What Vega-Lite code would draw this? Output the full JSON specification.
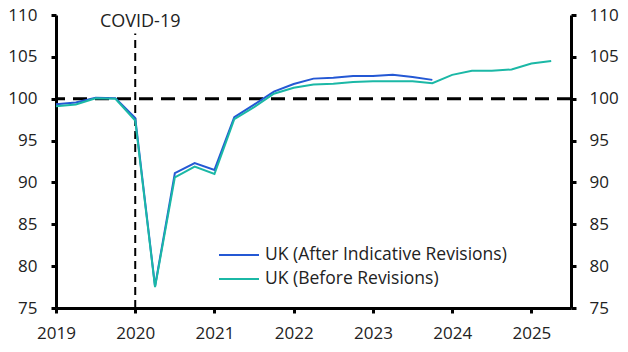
{
  "$schema": "https://vega.github.io/schema/vega-lite/v6.json",
  "width": 515,
  "height": 293,
  "autosize": {"type": "none"},
  "padding": {"left": 56, "top": 15, "right": 57, "bottom": 44},
  "background": "white",
  "config": {
    "view": {"stroke": null},
    "font": "Open Sans",
    "axis": {
      "grid": false,
      "domainColor": "black",
      "domainWidth": 3,
      "tickColor": "black",
      "tickWidth": 3,
      "tickSize": 5,
      "labelFontSize": 17,
      "labelColor": "#222222",
      "labelFont": "Open Sans",
      "labelFlush": false,
      "title": null
    }
  },
  "datasets": {
    "gdp": [
      {"date": 2019.0, "series": "UK (After Indicative Revisions)", "value": 99.35},
      {"date": 2019.25, "series": "UK (After Indicative Revisions)", "value": 99.55},
      {"date": 2019.5, "series": "UK (After Indicative Revisions)", "value": 100.1},
      {"date": 2019.75, "series": "UK (After Indicative Revisions)", "value": 100.05},
      {"date": 2020.0, "series": "UK (After Indicative Revisions)", "value": 97.7},
      {"date": 2020.25, "series": "UK (After Indicative Revisions)", "value": 77.6},
      {"date": 2020.5, "series": "UK (After Indicative Revisions)", "value": 91.1},
      {"date": 2020.75, "series": "UK (After Indicative Revisions)", "value": 92.3},
      {"date": 2021.0, "series": "UK (After Indicative Revisions)", "value": 91.5},
      {"date": 2021.25, "series": "UK (After Indicative Revisions)", "value": 97.8},
      {"date": 2021.5, "series": "UK (After Indicative Revisions)", "value": 99.3},
      {"date": 2021.75, "series": "UK (After Indicative Revisions)", "value": 100.85},
      {"date": 2022.0, "series": "UK (After Indicative Revisions)", "value": 101.75},
      {"date": 2022.25, "series": "UK (After Indicative Revisions)", "value": 102.4},
      {"date": 2022.5, "series": "UK (After Indicative Revisions)", "value": 102.5},
      {"date": 2022.75, "series": "UK (After Indicative Revisions)", "value": 102.7},
      {"date": 2023.0, "series": "UK (After Indicative Revisions)", "value": 102.7},
      {"date": 2023.25, "series": "UK (After Indicative Revisions)", "value": 102.85},
      {"date": 2023.5, "series": "UK (After Indicative Revisions)", "value": 102.6},
      {"date": 2023.75, "series": "UK (After Indicative Revisions)", "value": 102.25},
      {"date": 2019.0, "series": "UK (Before Revisions)", "value": 99.1},
      {"date": 2019.25, "series": "UK (Before Revisions)", "value": 99.3},
      {"date": 2019.5, "series": "UK (Before Revisions)", "value": 100.05},
      {"date": 2019.75, "series": "UK (Before Revisions)", "value": 100.0},
      {"date": 2020.0, "series": "UK (Before Revisions)", "value": 97.4},
      {"date": 2020.25, "series": "UK (Before Revisions)", "value": 77.5},
      {"date": 2020.5, "series": "UK (Before Revisions)", "value": 90.6},
      {"date": 2020.75, "series": "UK (Before Revisions)", "value": 91.9},
      {"date": 2021.0, "series": "UK (Before Revisions)", "value": 91.0},
      {"date": 2021.25, "series": "UK (Before Revisions)", "value": 97.55},
      {"date": 2021.5, "series": "UK (Before Revisions)", "value": 99.0},
      {"date": 2021.75, "series": "UK (Before Revisions)", "value": 100.6},
      {"date": 2022.0, "series": "UK (Before Revisions)", "value": 101.3},
      {"date": 2022.25, "series": "UK (Before Revisions)", "value": 101.7},
      {"date": 2022.5, "series": "UK (Before Revisions)", "value": 101.8},
      {"date": 2022.75, "series": "UK (Before Revisions)", "value": 102.0},
      {"date": 2023.0, "series": "UK (Before Revisions)", "value": 102.1},
      {"date": 2023.25, "series": "UK (Before Revisions)", "value": 102.1},
      {"date": 2023.5, "series": "UK (Before Revisions)", "value": 102.1},
      {"date": 2023.75, "series": "UK (Before Revisions)", "value": 101.85},
      {"date": 2024.0, "series": "UK (Before Revisions)", "value": 102.85},
      {"date": 2024.25, "series": "UK (Before Revisions)", "value": 103.35},
      {"date": 2024.5, "series": "UK (Before Revisions)", "value": 103.35},
      {"date": 2024.75, "series": "UK (Before Revisions)", "value": 103.5},
      {"date": 2025.0, "series": "UK (Before Revisions)", "value": 104.2},
      {"date": 2025.25, "series": "UK (Before Revisions)", "value": 104.5}
    ],
    "hline": [{"value": 100}],
    "vline": [{"date": 2020, "y1": 75, "y2": 107.8, "label": "COVID-19", "ly": 109.2}]
  },
  "layer": [
    {
      "data": {"name": "hline"},
      "mark": {"type": "rule", "color": "black", "strokeWidth": 3, "strokeDash": [14, 8]},
      "encoding": {
        "y": {
          "field": "value", "type": "quantitative",
          "scale": {"domain": [75, 110], "nice": false, "zero": false},
          "axis": {"orient": "right", "values": [75, 80, 85, 90, 95, 100, 105, 110], "labelPadding": 13}
        }
      }
    },
    {
      "data": {"name": "vline"},
      "mark": {"type": "rule", "color": "black", "strokeWidth": 2, "strokeDash": [8, 5]},
      "encoding": {
        "x": {"field": "date", "type": "quantitative"},
        "y": {"field": "y1", "type": "quantitative", "axis": null},
        "y2": {"field": "y2"}
      }
    },
    {
      "data": {"name": "vline"},
      "mark": {"type": "text", "fontSize": 18, "align": "center", "baseline": "middle", "dx": 5, "color": "#222222", "font": "Open Sans"},
      "encoding": {
        "x": {"field": "date", "type": "quantitative"},
        "y": {"field": "ly", "type": "quantitative", "axis": null},
        "text": {"field": "label"}
      }
    },
    {
      "data": {"name": "gdp"},
      "mark": {"type": "line", "strokeWidth": 2},
      "encoding": {
        "x": {
          "field": "date", "type": "quantitative",
          "scale": {"domain": [2019, 2025.5], "nice": false, "zero": false},
          "axis": {"values": [2019, 2020, 2021, 2022, 2023, 2024, 2025], "format": "d", "labelPadding": 12}
        },
        "y": {
          "field": "value", "type": "quantitative",
          "scale": {"domain": [75, 110], "nice": false, "zero": false},
          "axis": {"orient": "left", "values": [75, 80, 85, 90, 95, 100, 105, 110], "labelPadding": 14}
        },
        "color": {
          "field": "series", "type": "nominal",
          "scale": {"domain": ["UK (After Indicative Revisions)", "UK (Before Revisions)"], "range": ["#2458D4", "#1BB8A6"]},
          "legend": {
            "orient": "none", "legendX": 172, "legendY": 229, "padding": 0,
            "title": null, "symbolType": "M-2,0H2", "symbolSize": 400, "symbolStrokeWidth": 2,
            "labelFontSize": 17.5, "labelFont": "Open Sans", "labelColor": "#222222", "labelOffset": 15,
            "labelLimit": 400, "rowPadding": 4
          }
        }
      }
    }
  ],
  "resolve": {"scale": {"y": "shared"}, "axis": {"y": "independent"}}
}
